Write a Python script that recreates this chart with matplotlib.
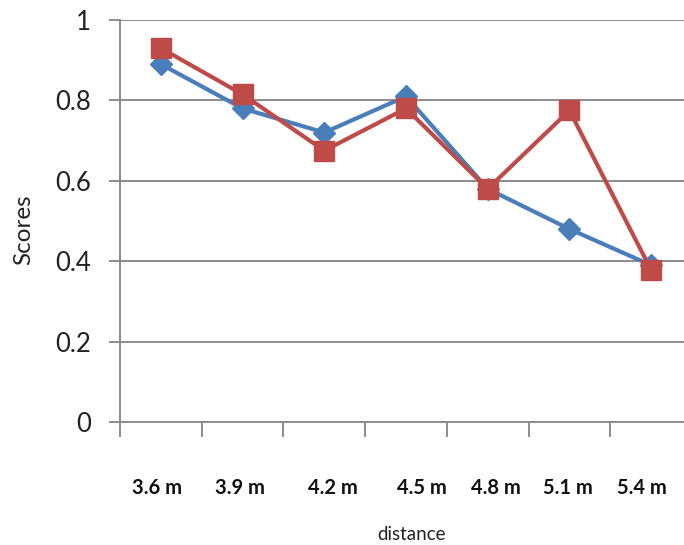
import matplotlib.pyplot as plt
import matplotlib.transforms as mtransforms
import numpy as np

plt.rcParams['font.family'] = ['Lato', 'DejaVu Sans']

distances = ["3.6 m", "3.9 m", "4.2 m", "4.5 m", "4.8 m", "5.1 m", "5.4 m"]
blue_scores = [0.89, 0.78, 0.72, 0.81, 0.58, 0.48, 0.39]
red_scores = [0.93, 0.815, 0.675, 0.78, 0.58, 0.775, 0.378]

# where the category labels sit (they are not exactly centred under the points)
label_pos = [-0.05, 0.965, 2.107, 3.196, 4.102, 4.983, 5.89]

grey = "#8c8c8c"
blue = "#4a7ebb"
red = "#be4b48"

fig = plt.figure(figsize=(6.84, 5.45), dpi=100)
ax = fig.add_axes([120 / 684, 123 / 545, 572 / 684, 402 / 545])

x = np.arange(len(distances))
ax.plot(x, blue_scores, color=blue, lw=3, marker="D", ms=11.5,
        markerfacecolor=blue, markeredgecolor=blue, zorder=3)
ax.plot(x, red_scores, color=red, lw=3, marker="s", ms=14.5,
        markerfacecolor=red, markeredgecolor=red, zorder=4)

ax.set_xlim(-0.5, len(distances) - 0.5)
ax.set_ylim(0, 1)
ax.set_yticks(np.arange(0, 1.01, 0.2))
ax.set_yticklabels(["0", "0.2", "0.4", "0.6", "0.8", "1"], fontsize=18.5, color="#222222")
ax.yaxis.grid(True, color=grey, lw=1.4)
ax.set_axisbelow(True)

ax.set_xticks(np.arange(-0.5, len(distances), 1.0))
ax.set_xticklabels([])
ax.tick_params(axis="x", length=11, width=1.4, color=grey, direction="out")
ax.tick_params(axis="y", length=8, width=1.4, color=grey, direction="out", pad=13)

for side in ["top", "right"]:
    ax.spines[side].set_visible(False)
for side in ["left", "bottom"]:
    ax.spines[side].set_color(grey)
    ax.spines[side].set_linewidth(1.4)

trans = mtransforms.blended_transform_factory(ax.transData, fig.transFigure)
for lab, p in zip(distances, label_pos):
    ax.text(p, 57 / 545, lab, transform=trans, ha="center", va="center",
            fontsize=14.5, fontweight="bold", color="#111111")

fig.text(411 / 684, 11 / 545, "distance", ha="center", va="center", fontsize=13.5, color="#222222")
fig.text(24 / 684, 315 / 545, "Scores", ha="center", va="center", rotation=90,
         fontsize=17.5, color="#222222")

plt.savefig("out.png", dpi=100)
